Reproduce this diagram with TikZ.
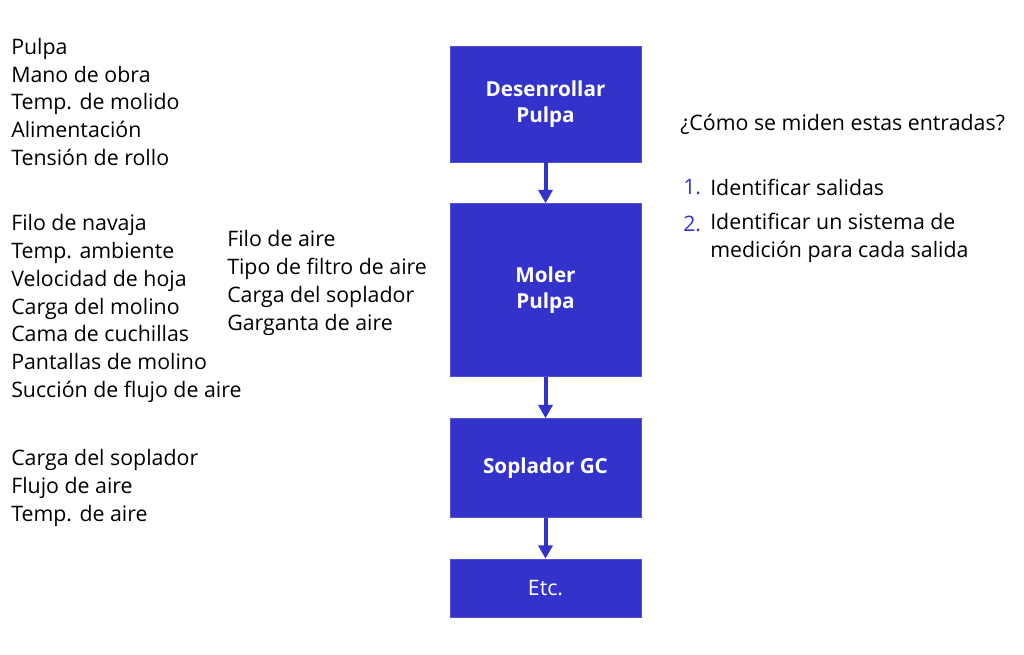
\documentclass[tikz,border=0pt]{standalone}
\usepackage{fontspec}
\setmainfont{Open Sans}
\usetikzlibrary{arrows.meta}
\definecolor{boxblue}{HTML}{3333CC}
\tikzset{>={Triangle[width=10.5pt,length=10pt]}}
\tikzset{proc/.style = {rectangle,fill=boxblue,draw=boxblue!85!white,text=white,
    minimum width=143.25pt,align=center,font=\bfseries\fontsize{15.5}{19.5}\selectfont}}
\tikzset{lista/.style = {align=left,inner sep=0pt,anchor=west,
    font=\fontsize{16}{20.8}\selectfont}}
\tikzset{flecha/.style = {->,draw=boxblue,line width=3pt}}

\begin{document}
\begin{tikzpicture}[x=0.75pt,y=-0.75pt]
    \useasboundingbox (0,0) rectangle (1024,655);

    \node[proc,minimum height=87pt] (D) at (545.5,104) {Desenrollar\\Pulpa};
    \node[proc,minimum height=129.75pt] (M) at (545.5,290) {Moler\\Pulpa};
    \node[proc,minimum height=74.25pt] (S) at (545.5,468) {Soplador GC};
    \node[proc,minimum height=43.5pt,font=\fontsize{16}{19.5}\selectfont] (E) at (545.5,588) {Etc.};

    \draw[flecha] (D) -- (M);
    \draw[flecha] (M) -- (S);
    \draw[flecha] (S) -- (E);

    \node[lista] (in1) at (11,102) {Pulpa\\Mano de obra\\Temp. de molido\\Alimentación\\Tensión de rollo};
    \node[lista] (in2) at (11,308.5) {Filo de navaja\\Temp. ambiente\\Velocidad de hoja\\Carga del molino\\Cama de cuchillas\\Pantallas de molino\\Succión de flujo de aire};
    \node[lista] (in3) at (227,283) {Filo de aire\\Tipo de filtro de aire\\Carga del soplador\\Garganta de aire};
    \node[lista] (in4) at (11,488) {Carga del soplador\\Flujo de aire\\Temp. de aire};

    \node[lista] (preg) at (680,124.5) {¿Cómo se miden estas entradas?};
    \node[lista,text=boxblue] (n1) at (683,187) {1.};
    \node[lista] (p1) at (710,187) {Identificar salidas};
    \node[lista,text=boxblue] (n2) at (683,224) {2.};
    \node[lista] (p2) at (710,238) {Identificar un sistema de\\medición para cada salida};
\end{tikzpicture}
\end{document}
